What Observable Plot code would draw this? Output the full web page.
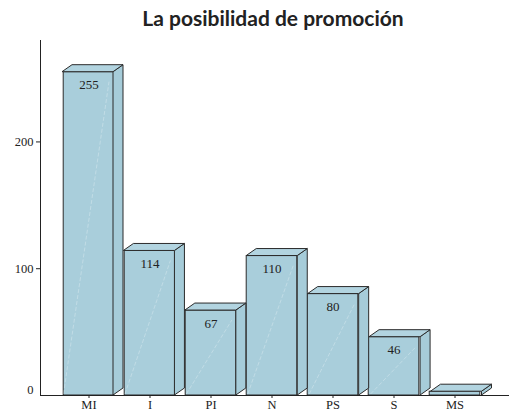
<!DOCTYPE html>
<html><head><meta charset="utf-8">
<script src="https://cdn.jsdelivr.net/npm/d3@7"></script>
<script src="https://cdn.jsdelivr.net/npm/@observablehq/plot@0.6"></script>
<style>
body{margin:0;background:#fff;}
#title{height:38px;box-sizing:border-box;padding-top:6px;padding-left:37px;text-align:center;
  font-family:Lato,"Open Sans",sans-serif;font-weight:bold;font-size:21px;line-height:24px;color:#222;}
#chart svg{display:block;}
#chart svg text{font-family:"Liberation Serif","DejaVu Serif",serif;}
</style></head><body>
<div id="title">La posibilidad de promoción</div>
<div id="chart"></div>
<script>
const categories = ["MI","I","PI","N","PS","S","MS"];
const values = [255,114,67,110,80,46,3];
const valueLabels = ["255","114","67","110","80","46",""];
const yTicks = [100,200];

const data = categories.map((c,i)=>({cat:c, value:values[i], label:valueLabels[i]}));
const W = 509, H = 376;
const inset = 5.2, depthX = 10, depthY = 7;
const fillC = "#a9cedb", edgeC = "#2b2b2b";
const serif = "'Liberation Serif', serif";

const chart = Plot.plot({
  width:W, height:H, marginLeft:40, marginRight:0, marginTop:2, marginBottom:19,
  x:{domain:categories, range:[56.8,486.7], padding:0, label:null},
  y:{domain:[0,280], label:null},
  style:{fontFamily:serif, fontSize:"12px", color:"#222", background:"white", overflow:"visible"},
  marks:[
    Plot.barY(data,{x:"cat", y:"value", insetLeft:inset, insetRight:inset, fill:fillC, stroke:edgeC, strokeWidth:1}),
    Plot.ruleY([0],{stroke:"#222"}),
    Plot.frame({anchor:"left", stroke:"#222"}),
    Plot.axisX({tickSize:3, tickPadding:2, fontSize:12.5, fontFamily:serif}),
    Plot.axisY({ticks:yTicks, tickSize:4, tickPadding:3, fontSize:12.5, fontFamily:serif}),
    Plot.text([0],{y:d=>d, text:d=>String(d), frameAnchor:"left", textAnchor:"end", dx:-7, dy:-6, fontSize:12.5, fontFamily:serif}),
    Plot.text(data,{x:"cat", y:"value", text:"label", dy:13, fontSize:13, fontFamily:serif, fill:"#222"})
  ]
});
document.getElementById("chart").appendChild(chart);

// 3D faces drawn with the plot's own scales
const sx = chart.scale("x"), sy = chart.scale("y");
const xb = d3.scaleBand().domain(sx.domain).range(sx.range).paddingInner(sx.paddingInner ?? 0).paddingOuter(sx.paddingOuter ?? 0).align(sx.align ?? 0.5);
const yl = d3.scaleLinear().domain(sy.domain).range(sy.range);
const svg = d3.select(chart);
const g = svg.insert("g", "g[aria-label='text']").attr("class","depth");
for (const d of data) {
  const x1 = xb(d.cat) + inset, x2 = xb(d.cat) + xb.bandwidth() - inset;
  const y0 = yl(0), yt = yl(d.value);
  g.append("polygon")
    .attr("points", [[x2,y0],[x2+depthX,y0-depthY],[x2+depthX,yt-depthY],[x2,yt]].join(" "))
    .attr("fill", "#a6ccd9").attr("stroke", edgeC).attr("stroke-width",1).attr("stroke-linejoin","round");
  g.append("polygon")
    .attr("points", [[x1,yt],[x1+depthX,yt-depthY],[x2+depthX,yt-depthY],[x2,yt]].join(" "))
    .attr("fill", "#b2d4e0").attr("stroke", edgeC).attr("stroke-width",1).attr("stroke-linejoin","round");
  if (d.value > 20) {
    g.append("line")
      .attr("x1", x1+1.5).attr("y1", y0-1).attr("x2", x2-4).attr("y2", yt+10)
      .attr("stroke","#ffffff").attr("stroke-opacity",0.35).attr("stroke-width",0.8).attr("stroke-dasharray","4,2");
  }
}
</script>
</body></html>
